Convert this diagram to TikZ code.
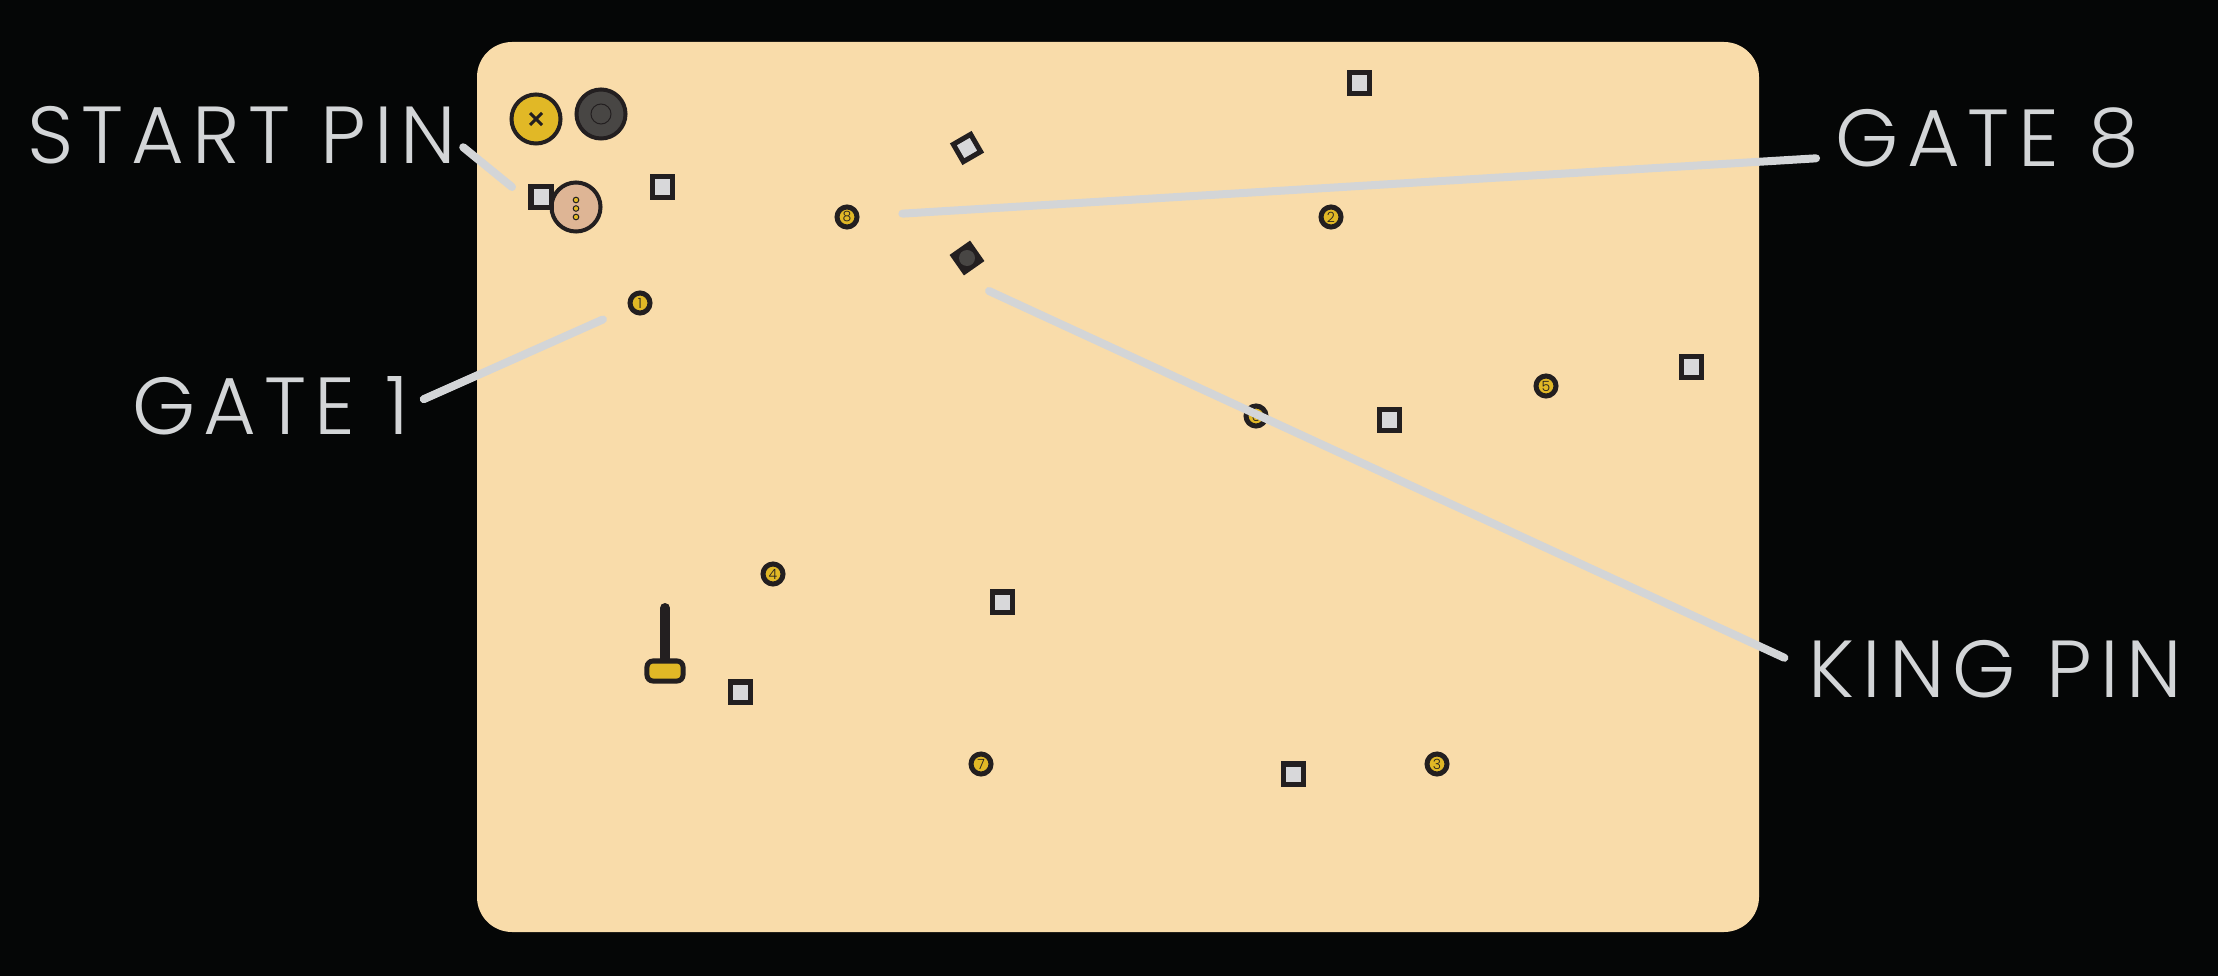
\documentclass[tikz,border=0pt]{standalone}
\usepackage{fontspec}
\newfontfamily\lblfont{Poppins Light}[LetterSpace=10]
\newfontfamily\digitfont{Poppins Light}
\definecolor{bgblack}{RGB}{5, 6, 6}
\definecolor{board}{RGB}{249, 220, 170}
\definecolor{lblgrey}{RGB}{211, 213, 215}
\definecolor{ink}{RGB}{35, 31, 32}
\definecolor{pinyellow}{RGB}{225, 184, 38}
\definecolor{puckgrey}{RGB}{72, 70, 68}
\definecolor{peach}{RGB}{222, 181, 149}
\definecolor{sqgrey}{RGB}{216, 216, 218}
\usetikzlibrary{positioning}

\begin{document}
\begin{tikzpicture}[x=0.01cm, y=-0.01cm,
  gate/.style={circle, draw=ink, line width=0.05cm, fill=pinyellow, minimum size=0.2cm, inner sep=0pt, text=ink, font=\digitfont\fontsize{4}{4}\selectfont},
  block/.style={rectangle, draw=ink, line width=0.05cm, fill=sqgrey, minimum size=0.2cm, inner sep=0pt},
  pin/.style={circle, draw=ink, line width=0.04cm, minimum size=0.49cm, inner sep=0pt},
  tag/.style={text=lblgrey, font=\lblfont\fontsize{23}{23}\selectfont, inner sep=0pt},
  leader/.style={draw=lblgrey, line width=0.08cm, line cap=round}]

  % Backdrop and board
  \fill[bgblack] (0,0) rectangle (2218,976);
  \fill[board, rounded corners=0.35cm] (477,42) rectangle (1759,932);

  % Start pins
  \node[pin, fill=pinyellow] (start) at (536,119) {};
  \draw[ink, line width=0.03cm] (start.center) ++(-6,-6) -- ++(12,12) (start.center) ++(6,-6) -- ++(-12,12);
  \node[pin, fill=puckgrey] (puck) at (601,114) {};
  \draw[ink, line width=0.01cm] (puck.center) circle[radius=0.1cm];
  \node[pin, fill=peach] (dice) at (576,207) {};
  \foreach \dy in {-7,1.5,10}
    \draw[ink, fill=pinyellow, line width=0.01cm] (dice.center) ++(0,\dy) circle[radius=0.028cm];

  % Gates
  \node[gate] (g1) at (640,303) {1};
  \node[gate] (g2) at (1331,217) {2};
  \node[gate] (g3) at (1437,764) {3};
  \node[gate] (g4) at (773,574) {4};
  \node[gate] (g5) at (1546,386) {5};
  \node[gate] (g6) at (1256,416) {6};
  \node[gate] (g7) at (981,764) {7};
  \node[gate] (g8) at (847,217) {8};

  % Blocks
  \node[block] (b1) at (541,197) {};
  \node[block] (b2) at (662,187) {};
  \node[block, rotate=30] (b3) at (967,148) {};
  \node[block] (b4) at (1359,83) {};
  \node[block] (b5) at (1691,367) {};
  \node[block] (b6) at (1389,420) {};
  \node[block] (b7) at (1002,602) {};
  \node[block] (b8) at (740,692) {};
  \node[block] (b9) at (1293,774) {};

  % King pin
  \node[block, fill=ink, rotate=35] (king) at (967,258) {};
  \fill[puckgrey] (king.center) circle[radius=0.08cm];

  % Lever
  \coordinate (levertop) at (665,608);
  \coordinate (leverbase) at (665,664);
  \draw[ink, line width=0.1cm, line cap=round] (leverbase) -- (levertop);
  \node[draw=ink, fill=pinyellow, line width=0.05cm, rounded corners=0.06cm, minimum width=0.36cm, minimum height=0.2cm, inner sep=0pt] (lever) at (665,671) {};

  % Labels
  \node[tag, anchor=base east] (startlbl) at (457,163) {START PIN};
  \node[tag, anchor=base east] (gate1lbl) at (410,434) {GATE 1};
  \node[tag, anchor=base west] (gate8lbl) at (1835,167) {GATE 8};
  \node[tag, anchor=base west] (kinglbl) at (1808,697) {KING PIN};

  \coordinate (startend) at (512,187);
  \coordinate (kingend) at (989,291);
  \draw[leader, shorten <=0.08cm] (startlbl.-2) -- (startend);
  \draw[leader, shorten <=0.15cm, shorten >=0.28cm] (gate1lbl.east) -- (g1);
  \draw[leader, shorten <=0.19cm, shorten >=0.43cm] (gate8lbl.187) -- (g8);
  \draw[leader, shorten <=0.26cm] (kinglbl.west) -- (kingend);
\end{tikzpicture}
\end{document}
